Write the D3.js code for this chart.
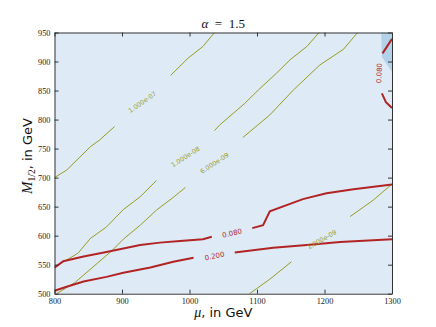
<!DOCTYPE html>
<html>
<head>
<meta charset="utf-8">
<script src="https://cdn.jsdelivr.net/npm/d3@7"></script>
<style>
  body { margin: 0; background: #fff; }
  svg { display: block; }
</style>
</head>
<body>
<script>
const W = 436, H = 327;
const margin = {left: 54.5, right: 44, top: 32.5, bottom: 33.3};

const muTicks = [800, 900, 1000, 1100, 1200, 1300];
const m12Ticks = [500, 550, 600, 650, 700, 750, 800, 850, 900, 950];

// olive contours (null = gap for the label)
const c7Mu = [800, 818, 853, 867, 889, null, 972, 998, 1020, 1037];
const c7M  = [700, 713, 753, 765, 788, null, 876, 906, 926, 950];
const c8Mu = [800, 818, 835, 853, 877, 902, 927, 951, null, 1037, 1045, 1082, 1102, 1129, 1149, 1174, 1192];
const c8M  = [546, 558, 570, 595, 615, 645, 667, 695, null, 781, 791, 828, 851, 880, 903, 926, 950];
const c6Mu = [803, 830, 857, 885, 902, 927, 951, 976, 994, null, 1079, 1119, 1154, 1193, 1228, 1249];
const c6M  = [500, 519, 546, 574, 594, 618, 644, 666, 683, null, 769, 808, 851, 894, 921, 950];
const c9Mu = [1089, 1119, 1151, null, 1238, 1272, 1300];
const c9M  = [500, 525, 555, null, 633, 661, 689];

// red contours
const r08Mu = [800, 813, 843, 877, 902, 927, 956, 986, 1020, 1033, null, 1093, 1109, 1119, 1168, 1203, 1243, 1300];
const r08M  = [545, 556, 564, 572, 578, 584, 588, 591, 594, 598, null, 613, 618, 642, 663, 673, 680, 688];
const r08bMu = [1300, 1286, null, 1285, 1291, 1300];
const r08bM  = [939, 914, null, 845, 830, 820];
const r20Mu = [800, 818, 843, 877, 902, 942, 976, 1006, null, 1067, 1124, 1174, 1223, 1300];
const r20M  = [505, 512, 521, 529, 536, 545, 555, 562, null, 571, 579, 584, 589, 594];

// darker filled region, top right
const regionMu = [1284, 1285, 1300, 1300];
const regionM  = [950, 908, 882, 950];

// contour labels
const labelText = ["1.000e-07", "1.000e-08", "6.000e-09", "1.000e-09", "0.080", "0.200", "0.080"];
const labelMu   = [930, 994, 1037, 1196, 1063, 1037, 1281];
const labelM    = [830, 736, 725, 593, 604.5, 565, 880];
const labelRot  = [-35, -33, -33, -30, -13, -12, -88];
const labelKind = ["o", "o", "o", "o", "r", "r", "r"];

const olive = "#9a9a1e", red = "#b22424";

const svg = d3.select("body").append("svg")
  .attr("width", W).attr("height", H);

const x = d3.scaleLinear().domain([800, 1300]).range([margin.left, W - margin.right]);
const y = d3.scaleLinear().domain([500, 950]).range([H - margin.bottom, margin.top]);

const zip = (a, b) => a.map((v, i) => v === null ? null : [v, b[i]]);

const line = d3.line()
  .defined(d => d !== null)
  .x(d => x(d[0]))
  .y(d => y(d[1]));

svg.append("defs").append("clipPath").attr("id", "clip")
  .append("rect")
  .attr("x", x(800)).attr("y", y(950))
  .attr("width", x(1300) - x(800)).attr("height", y(500) - y(950));

const plot = svg.append("g").attr("clip-path", "url(#clip)");

plot.append("rect")
  .attr("x", x(800)).attr("y", y(950))
  .attr("width", x(1300) - x(800)).attr("height", y(500) - y(950))
  .attr("fill", "#deebf7");

plot.append("path")
  .attr("d", line(zip(regionMu, regionM)) + "Z")
  .attr("fill", "#b1d2e8");

[[c7Mu, c7M], [c8Mu, c8M], [c6Mu, c6M], [c9Mu, c9M]].forEach(([a, b]) => {
  plot.append("path")
    .attr("d", line(zip(a, b)))
    .attr("fill", "none")
    .attr("stroke", olive)
    .attr("stroke-width", 1);
});

[[r08Mu, r08M], [r08bMu, r08bM], [r20Mu, r20M]].forEach(([a, b]) => {
  plot.append("path")
    .attr("d", line(zip(a, b)))
    .attr("fill", "none")
    .attr("stroke", red)
    .attr("stroke-width", 2);
});

labelText.forEach((t, i) => {
  svg.append("text")
    .attr("transform", `translate(${x(labelMu[i])},${y(labelM[i])}) rotate(${labelRot[i]})`)
    .attr("text-anchor", "middle")
    .attr("dy", "0.35em")
    .attr("font-family", "DejaVu Sans")
    .attr("font-size", labelKind[i] === "o" ? 6.4 : 7)
    .attr("fill", labelKind[i] === "o" ? olive : red)
    .text(t);
});

// axes, ticks pointing inward
const axisStyle = g => {
  g.selectAll(".domain").attr("stroke", "#333");
  g.selectAll(".tick line").attr("stroke", "#333");
  g.selectAll("text")
    .attr("font-family", "Liberation Serif")
    .attr("font-size", 8.3)
    .attr("fill", "#222");
};

svg.append("g")
  .attr("transform", `translate(0,${y(500)})`)
  .call(d3.axisBottom(x).tickValues(muTicks).tickSizeInner(-4).tickSizeOuter(0).tickPadding(4).tickFormat(d3.format("d")))
  .call(axisStyle);

svg.append("g")
  .attr("transform", `translate(0,${y(950)})`)
  .call(d3.axisTop(x).tickValues(muTicks).tickSizeInner(-4).tickSizeOuter(0).tickFormat(""))
  .call(axisStyle);

svg.append("g")
  .attr("transform", `translate(${x(800)},0)`)
  .call(d3.axisLeft(y).tickValues(m12Ticks).tickSizeInner(-4).tickSizeOuter(0).tickPadding(4).tickFormat(d3.format("d")))
  .call(axisStyle);

svg.append("g")
  .attr("transform", `translate(${x(1300)},0)`)
  .call(d3.axisRight(y).tickValues(m12Ticks).tickSizeInner(-4).tickSizeOuter(0).tickFormat(""))
  .call(axisStyle);

svg.selectAll(".tick text").filter(function () { return this.textContent === ""; }).remove();

// title
const title = svg.append("text")
  .attr("x", (x(800) + x(1300)) / 2)
  .attr("y", 28)
  .attr("text-anchor", "middle")
  .attr("font-family", "Liberation Serif")
  .attr("font-size", 13)
  .attr("fill", "#111")
  .attr("xml:space", "preserve");
title.append("tspan").attr("font-style", "italic").text("α");
title.append("tspan").text("  =  1.5");

// x label
const xl = svg.append("text")
  .attr("x", (x(800) + x(1300)) / 2)
  .attr("y", 317)
  .attr("text-anchor", "middle")
  .attr("font-size", 13)
  .attr("fill", "#111");
xl.append("tspan").attr("font-family", "Liberation Serif").attr("font-style", "italic").attr("font-size", 14).text("μ");
xl.append("tspan").attr("font-family", "DejaVu Sans").text(", in GeV");

// y label
const yl = svg.append("text")
  .attr("transform", "translate(31.5,156) rotate(-90)")
  .attr("text-anchor", "middle")
  .attr("font-size", 13)
  .attr("fill", "#111");
yl.append("tspan").attr("font-family", "Liberation Serif").attr("font-style", "italic").attr("font-size", 15).text("M");
yl.append("tspan").attr("font-family", "Liberation Serif").attr("font-size", 9.5).attr("dy", 3).text("1/2");
yl.append("tspan").attr("font-family", "DejaVu Sans").attr("dy", -3).text(", in GeV");
</script>
</body>
</html>
